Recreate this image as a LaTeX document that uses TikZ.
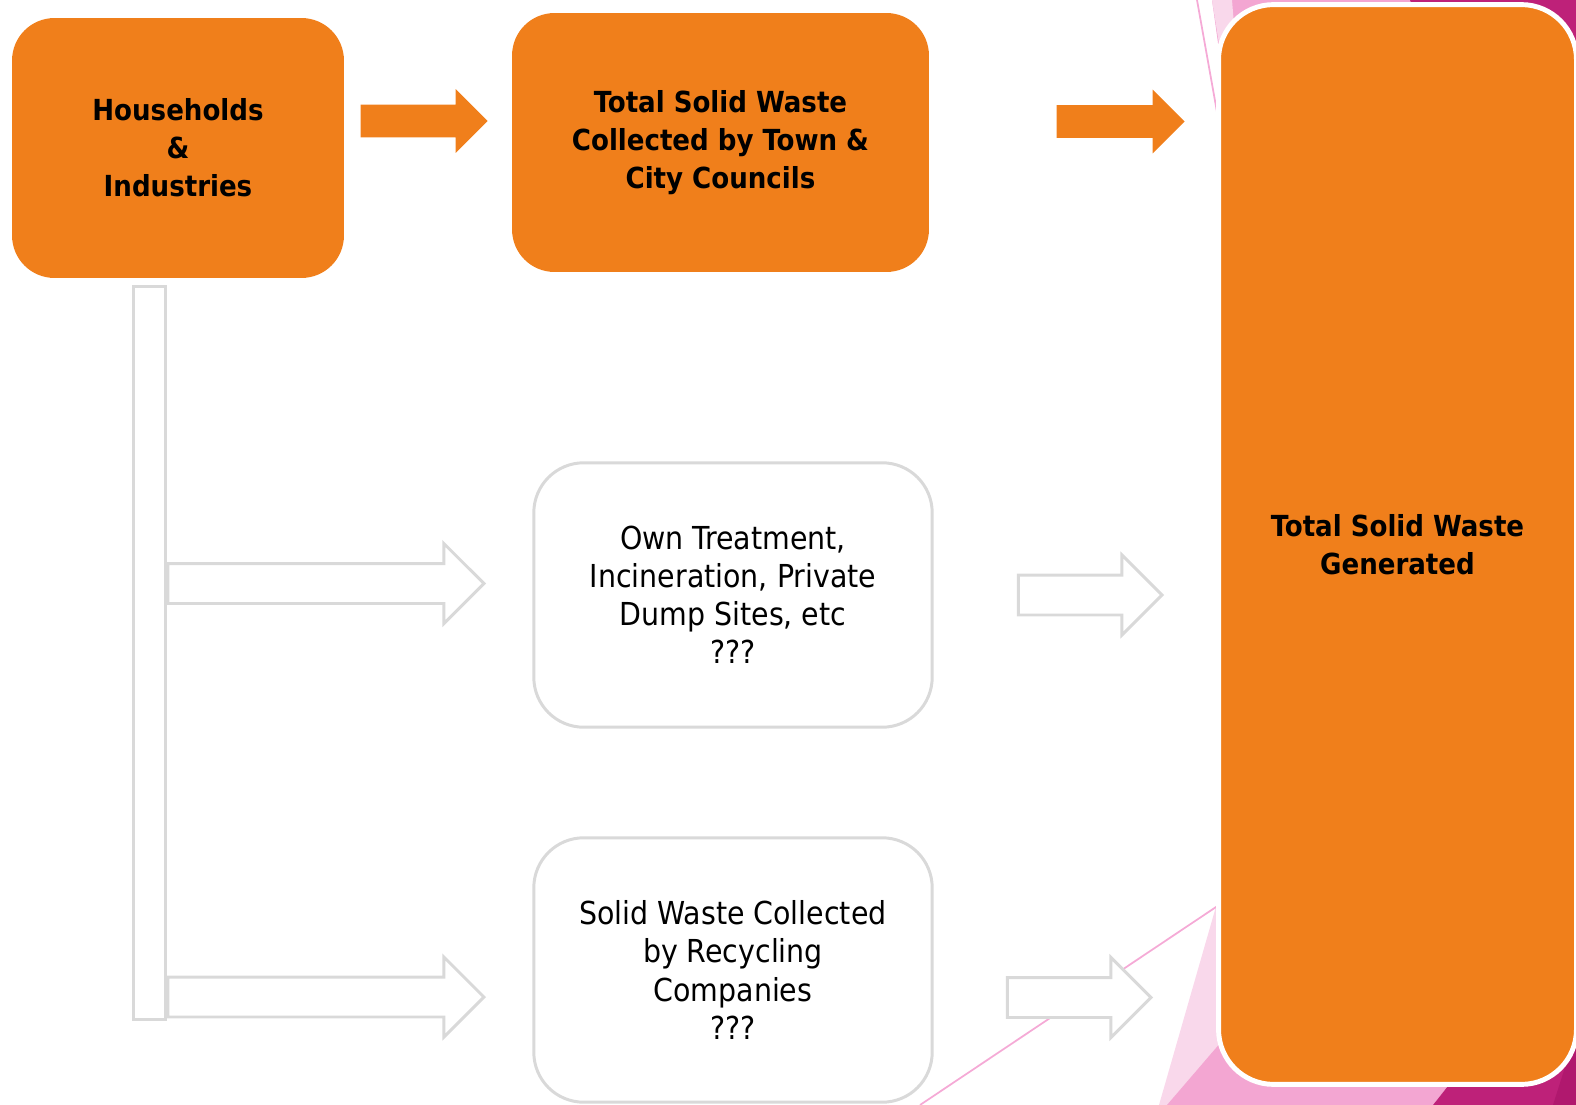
\documentclass[tikz,border=0pt]{standalone}
\usepackage{fontspec}
\setmainfont{DejaVu Sans Condensed}
\usetikzlibrary{shapes.arrows}
\definecolor{boxorange}{RGB}{240,127,27}
\definecolor{boxgray}{RGB}{217,217,217}
\definecolor{lightpink}{RGB}{249,216,235}
\definecolor{midpink}{RGB}{243,166,210}
\definecolor{linepink}{RGB}{245,170,214}
\definecolor{deepmagenta}{RGB}{190,33,121}
\definecolor{darkmagenta}{RGB}{176,24,110}
\begin{document}
\begin{tikzpicture}[
                        x=0.02cm, y=-0.02cm,
                        orangebox/.style={rectangle, rounded corners=0.85cm, fill=boxorange, align=center, font=\fontsize{16.5}{21.7}\selectfont\bfseries},
                        graybox/.style={rectangle, rounded corners=1cm, draw=boxgray, line width=1.7pt, fill=white, align=center, minimum width=7.97cm, minimum height=5.29cm, font=\fontsize{18}{21.7}\selectfont},
                        genbox/.style={rectangle, rounded corners=1.1cm, fill=boxorange, draw=white, line width=2.8pt, align=center, font=\fontsize{16.5}{21.7}\selectfont\bfseries},
                        orangearrow/.style={single arrow, anchor=tip, fill=boxorange, inner sep=0pt, inner ysep=0.32cm, single arrow head extend=0.31cm},
                        grayarrow/.style={single arrow, anchor=tip, draw=boxgray, line width=1.7pt, fill=white, inner sep=0pt, inner ysep=0.37cm, single arrow head extend=0.4cm}
                    ]
                    \useasboundingbox (0,0) rectangle (1576,1105);
                    \clip (0,0) rectangle (1576,1105);
                    % Background
                    \fill[midpink] (1212,0) -- (1415,0) -- (1330,200) -- (1240,200) -- cycle;
                    \fill[lightpink] (1212,0) -- (1232,0) -- (1240,100) -- (1228,100) -- cycle;
                    \fill[deepmagenta] (1410,0) -- (1580,0) -- (1580,200) -- (1450,100) -- cycle;
                    \draw[linepink, line width=1pt] (1197,0) -- (1222,140);
                    \fill[lightpink] (1159,1105) -- (1217,903) -- (1300,903) -- (1300,1105) -- cycle;
                    \fill[midpink] (1167,1105) -- (1240,1020) -- (1500,1020) -- (1433,1105) -- cycle;
                    \fill[deepmagenta] (1433,1105) -- (1500,1020) -- (1580,1020) -- (1580,1105) -- cycle;
                    \fill[darkmagenta] (1553,1105) -- (1580,1020) -- (1580,1105) -- cycle;
                    \draw[linepink, line width=1pt] (920,1105) -- (1222,903);

                    % Blocks
                    \node [orangebox, minimum width=6.64cm, minimum height=5.2cm] (house) at (178,148) {Households\\\&\\Industries};
                    \node [orangebox, minimum width=8.34cm, minimum height=5.18cm] (council) at (720.5,142.5) {Total Solid Waste\\Collected by Town \&\\City Councils};
                    \node [graybox] (own) at (733,595) {Own Treatment,\\Incineration, Private\\Dump Sites, etc\\???};
                    \node [graybox] (recycle) at (733,970) {Solid Waste Collected\\by Recycling\\Companies\\???};
                    \node [genbox, minimum width=7.16cm, minimum height=21.6cm] (generated) at (1397.5,544.5) {Total Solid Waste\\Generated};
                    \node [rectangle, draw=boxgray, line width=1.7pt, minimum width=0.63cm, minimum height=14.65cm] (trunk) at (149.5,653) {};

                    % Connections
                    \node [orangearrow, minimum height=2.54cm] (houseto) at (488,121) {};
                    \node [orangearrow, minimum height=2.56cm] (councilto) at (1185,121.5) {};
                    \node [grayarrow, minimum height=6.32cm] (trunktoown) at (486,583.5) {};
                    \node [grayarrow, minimum height=6.32cm] (trunktorecycle) at (486,997) {};
                    \node [grayarrow, minimum height=2.87cm] (ownto) at (1164,595) {};
                    \node [grayarrow, minimum height=2.87cm] (recycleto) at (1153,997.5) {};
\end{tikzpicture}
\end{document}
